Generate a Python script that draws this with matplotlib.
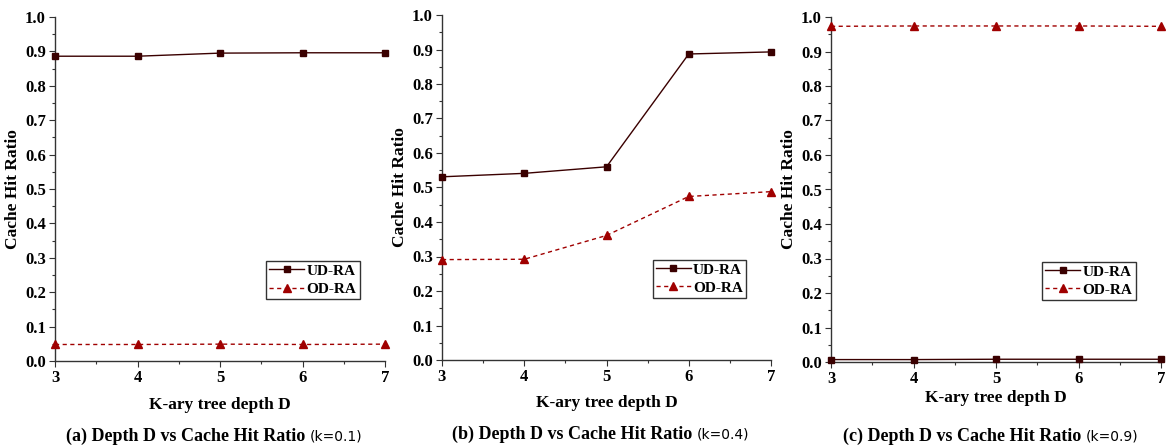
import matplotlib.pyplot as plt
from matplotlib.ticker import MultipleLocator

depths = [3, 4, 5, 6, 7]

ud_ra_a = [0.886, 0.886, 0.895, 0.896, 0.896]
od_ra_a = [0.048, 0.048, 0.049, 0.048, 0.049]

ud_ra_b = [0.531, 0.541, 0.560, 0.887, 0.893]
od_ra_b = [0.291, 0.292, 0.361, 0.474, 0.488]

ud_ra_c = [0.007, 0.007, 0.008, 0.008, 0.008]
od_ra_c = [0.973, 0.974, 0.974, 0.974, 0.973]

captions = ["(a) Depth D vs Cache Hit Ratio ", "(b) Depth D vs Cache Hit Ratio ",
            "(c) Depth D vs Cache Hit Ratio "]
k_labels = ["(k=0.1)", "(k=0.4)", "(k=0.9)"]

plt.rcParams['font.family'] = ['Liberation Serif', 'DejaVu Serif']
plt.rcParams['font.weight'] = 'bold'

fig = plt.figure(figsize=(11.66, 4.45), dpi=100)

# axes boxes in pixels (left, top, right, bottom)
W, H = 1166, 445
boxes = [(55, 17, 385, 361), (442, 15, 771, 360), (831, 17, 1161, 362)]
panels = [(ud_ra_a, od_ra_a), (ud_ra_b, od_ra_b), (ud_ra_c, od_ra_c)]
xlabel_y = [405, 403, 398]
cap_y = [436, 434, 436]

ud_color = '#3a0000'
od_color = '#a00000'

for i, ((x0, y0, x1, y1), (ud, od)) in enumerate(zip(boxes, panels)):
    ax = fig.add_axes([x0 / W, 1 - y1 / H, (x1 - x0) / W, (y1 - y0) / H])
    ax.plot(depths, ud, color=ud_color, lw=1.0, marker='s', ms=5, label='UD-RA',
            clip_on=False, zorder=3)
    ax.plot(depths, od, color=od_color, lw=1.0, ls=(0, (3, 2.5)), marker='^', ms=6,
            label='OD-RA', clip_on=False, zorder=3)
    ax.set_xlim(3, 7)
    ax.set_ylim(0, 1.0)
    ax.xaxis.set_major_locator(MultipleLocator(1))
    ax.xaxis.set_minor_locator(MultipleLocator(0.5))
    ax.yaxis.set_major_locator(MultipleLocator(0.1))
    ax.yaxis.set_minor_locator(MultipleLocator(0.05))
    ax.yaxis.set_major_formatter(plt.FormatStrFormatter('%.1f'))
    for s in ['top', 'right']:
        ax.spines[s].set_visible(False)
    for s in ['left', 'bottom']:
        ax.spines[s].set_linewidth(1.0)
        ax.spines[s].set_color('#333333')
    ax.tick_params(which='major', direction='out', length=4, width=0.8, labelsize=12,
                   color='#333333', pad=2.5)
    ax.tick_params(which='minor', direction='out', length=2, width=0.8, color='#333333')
    for lab in ax.get_xticklabels() + ax.get_yticklabels():
        lab.set_fontweight('bold')
    ax.set_ylabel('Cache Hit Ratio', fontsize=12.5, fontweight='bold', labelpad=3)

    leg = ax.legend(loc='lower left', bbox_to_anchor=(0.64, 0.18), fancybox=False,
                    edgecolor='#333333', framealpha=1, borderaxespad=0,
                    prop={'weight': 'bold', 'size': 11}, handlelength=2.3,
                    handletextpad=0.15, borderpad=0.2, labelspacing=0.3)
    leg.get_frame().set_linewidth(1.0)

    cx = (x0 + x1) / 2 / W
    fig.text(cx, 1 - xlabel_y[i] / H, 'K-ary tree depth D', ha='center', va='center',
             fontsize=12.5, fontweight='bold')
    split = cx + 90 / W
    fig.text(split, 1 - cap_y[i] / H, captions[i], ha='right', va='center',
             fontsize=13, fontweight='bold')
    fig.text(split, 1 - cap_y[i] / H, k_labels[i], ha='left', va='center',
             fontsize=10, fontweight='normal', family=['DejaVu Sans'])

fig.savefig('out.png', dpi=100, facecolor='white')
